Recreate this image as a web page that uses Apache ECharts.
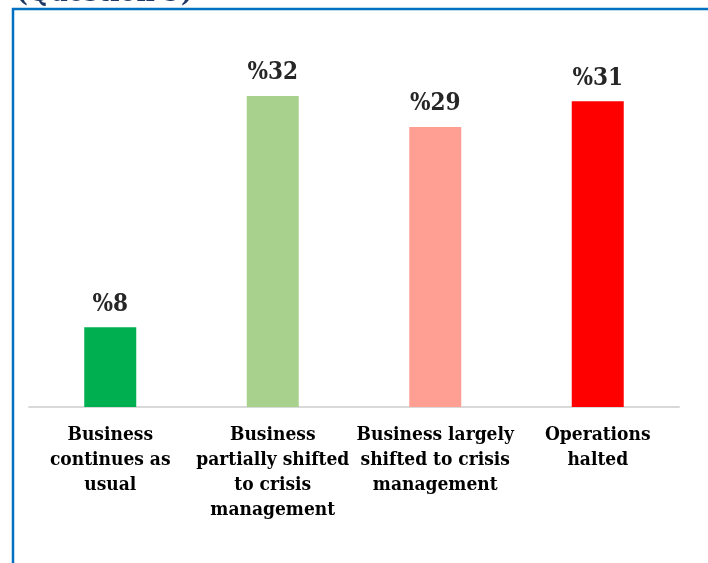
<!DOCTYPE html>
<html>
<head>
<meta charset="utf-8">
<script src="https://cdn.jsdelivr.net/npm/echarts@6/dist/echarts.min.js"></script>
<style>
html,body{margin:0;padding:0;background:#fff;}
#c{width:708px;height:563px;}
</style>
</head>
<body>
<div id="c"></div>
<script>
var categories = [
  "Business\ncontinues as\nusual",
  "Business\npartially shifted\nto crisis\nmanagement",
  "Business largely\nshifted to crisis\nmanagement",
  "Operations\nhalted"
];
var values = [8.2, 32, 28.8, 31.45];
var barColors = ["#00B050", "#A9D18E", "#FF9F94", "#FF0000"];
var titleText = "(Question 9)";

var chart = echarts.init(document.getElementById('c'), null, {renderer: 'canvas'});
var font = '"DejaVu Serif Condensed", "Liberation Serif", serif';
chart.setOption({
  animation: false,
  backgroundColor: '#ffffff',
  grid: {left: 29, right: 29, top: 18.25, bottom: 156, containLabel: false},
  xAxis: {
    type: 'category',
    data: categories,
    axisLine: {show: true, lineStyle: {color: '#D9D9D9', width: 2}},
    axisTick: {show: false},
    axisLabel: {
      interval: 0,
      margin: 16,
      color: '#000000',
      fontFamily: font,
      fontWeight: 'bold',
      fontSize: 19,
      lineHeight: 25,
      align: 'center'
    }
  },
  yAxis: {
    type: 'value', min: 0, max: 40, show: false,
    splitLine: {show: false}
  },
  series: [{
    type: 'bar',
    barWidth: 52,
    data: values.map(function (v, i) {
      return {value: v, itemStyle: {color: barColors[i]}};
    }),
    label: {
      show: true,
      position: 'top',
      distance: 11,
      color: '#262626',
      fontFamily: font,
      fontWeight: 'bold',
      fontSize: 24,
      formatter: function (p) { return '%' + Math.round(p.value); }
    }
  }],
  graphic: [
    {
      type: 'text', left: 16, top: -20,
      style: {text: titleText, fill: '#1F3864', font: 'bold 28px "DejaVu Serif Condensed", serif'}
    },
    {
      type: 'line', shape: {x1: 12, y1: 9, x2: 708, y2: 9},
      style: {stroke: '#0070C0', lineWidth: 2.5}
    },
    {
      type: 'line', shape: {x1: 13, y1: 8, x2: 13, y2: 563},
      style: {stroke: '#0070C0', lineWidth: 2.5}
    }
  ]
});
</script>
</body>
</html>
